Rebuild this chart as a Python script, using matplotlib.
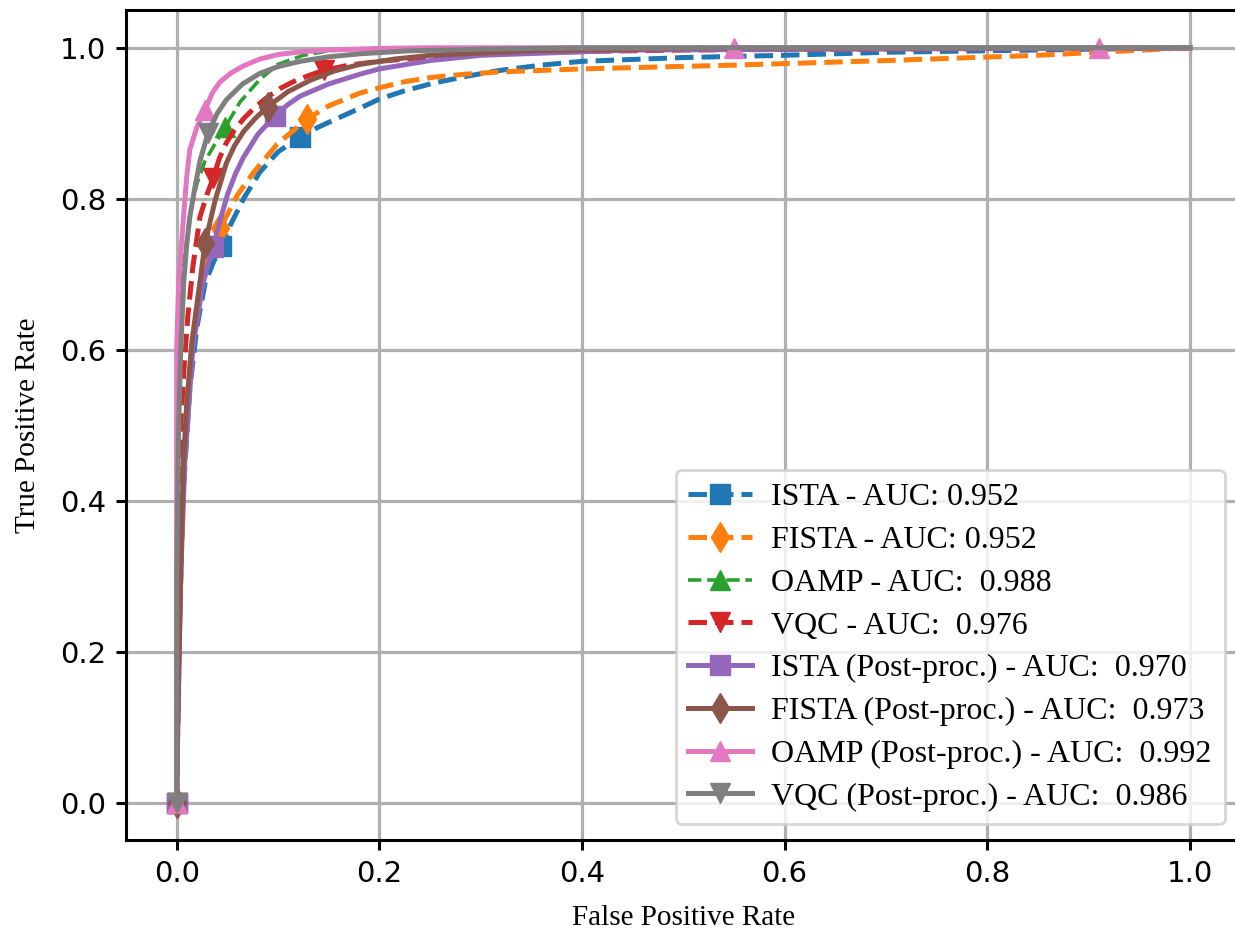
import matplotlib
matplotlib.use("Agg")
import matplotlib.pyplot as plt

# ---- data ----
labels = [
    "ISTA - AUC: 0.952",
    "FISTA - AUC: 0.952",
    "OAMP - AUC:  0.988",
    "VQC - AUC:  0.976",
    "ISTA (Post-proc.) - AUC:  0.970",
    "FISTA (Post-proc.) - AUC:  0.973",
    "OAMP (Post-proc.) - AUC:  0.992",
    "VQC (Post-proc.) - AUC:  0.986",
]

ista_fpr = [0, 0.002, 0.006, 0.013, 0.02, 0.028, 0.036, 0.044, 0.053, 0.066, 0.082, 0.1, 0.122, 0.14, 0.158, 0.181, 0.2, 0.225, 0.253, 0.285, 0.319, 0.36, 0.4, 0.5, 0.6, 0.7, 0.85, 1.0]
ista_tpr = [0, 0.2, 0.4, 0.55, 0.63, 0.688, 0.715, 0.738, 0.765, 0.8, 0.835, 0.862, 0.882, 0.895, 0.906, 0.92, 0.932, 0.943, 0.953, 0.962, 0.97, 0.977, 0.982, 0.987, 0.99, 0.994, 0.997, 1.0]
ista_mark = [0, 7, 12]

fista_fpr = [0, 0.002, 0.006, 0.012, 0.02, 0.03, 0.043, 0.06, 0.076, 0.099, 0.129, 0.15, 0.181, 0.2, 0.225, 0.253, 0.285, 0.319, 0.4, 0.55, 0.7, 0.85, 1.0]
fista_tpr = [0, 0.2, 0.4, 0.56, 0.66, 0.72, 0.761, 0.805, 0.835, 0.872, 0.906, 0.923, 0.94, 0.947, 0.955, 0.961, 0.965, 0.968, 0.972, 0.977, 0.983, 0.99, 1.0]
fista_mark = [0, 6, 10]

oamp_fpr = [0, 0, 0.002, 0.006, 0.013, 0.02, 0.028, 0.038, 0.048, 0.0625, 0.082, 0.1, 0.125, 0.15, 0.2, 1.0]
oamp_tpr = [0, 0.5, 0.6, 0.7, 0.78, 0.82, 0.85, 0.873, 0.895, 0.928, 0.958, 0.978, 0.99, 0.996, 1.0, 1.0]
oamp_mark = [0, 8]

vqc_fpr = [0, 0.001, 0.004, 0.007, 0.011, 0.016, 0.023, 0.03, 0.036, 0.042, 0.049, 0.057, 0.066, 0.078, 0.09, 0.102, 0.115, 0.13, 0.145, 0.17, 0.2, 0.25, 0.3, 0.4, 0.5, 1.0]
vqc_tpr = [0, 0.3, 0.5, 0.57, 0.644, 0.71, 0.776, 0.806, 0.827, 0.853, 0.874, 0.891, 0.906, 0.922, 0.935, 0.946, 0.955, 0.963, 0.970, 0.977, 0.982, 0.988, 0.992, 0.995, 0.997, 1.0]
vqc_mark = [0, 8, 18]

ista_pp_fpr = [0, 0.001, 0.004, 0.008, 0.016, 0.026, 0.036, 0.043, 0.05, 0.058, 0.066, 0.08, 0.097, 0.11, 0.122, 0.15, 0.181, 0.2, 0.25, 0.3, 0.45, 1.0]
ista_pp_tpr = [0, 0.1, 0.3, 0.45, 0.604, 0.688, 0.736, 0.772, 0.805, 0.833, 0.855, 0.885, 0.91, 0.925, 0.936, 0.952, 0.965, 0.972, 0.983, 0.99, 0.997, 1.0]
ista_pp_mark = [0, 6, 12]

fista_pp_fpr = [0, 0.001, 0.004, 0.0066, 0.01, 0.015, 0.023, 0.028, 0.038, 0.049, 0.057, 0.066, 0.078, 0.09, 0.11, 0.132, 0.155, 0.181, 0.215, 0.25, 0.35, 0.5, 1.0]
fista_pp_tpr = [0, 0.1, 0.3, 0.45, 0.53, 0.61, 0.69, 0.741, 0.798, 0.847, 0.87, 0.889, 0.907, 0.922, 0.942, 0.957, 0.969, 0.978, 0.985, 0.99, 0.996, 0.999, 1.0]
fista_pp_mark = [0, 7, 13]

oamp_pp_fpr = [0, 0, 0.002, 0.007, 0.01, 0.013, 0.02, 0.028, 0.035, 0.043, 0.054, 0.066, 0.082, 0.1, 0.125, 0.15, 0.2, 0.25, 0.55, 0.91, 1.0]
oamp_pp_tpr = [0, 0.6, 0.69, 0.78, 0.83, 0.865, 0.895, 0.917, 0.94, 0.955, 0.967, 0.976, 0.985, 0.991, 0.995, 0.997, 0.999, 1.0, 1.0, 1.0, 1.0]
oamp_pp_mark = [0, 7, 18, 19]

vqc_pp_fpr = [0, 0, 0.002, 0.004, 0.007, 0.01, 0.013, 0.018, 0.023, 0.031, 0.04, 0.049, 0.065, 0.082, 0.1, 0.122, 0.15, 0.181, 0.23, 0.3, 0.4, 1.0]
vqc_pp_tpr = [0, 0.3, 0.5, 0.6, 0.69, 0.74, 0.776, 0.815, 0.85, 0.887, 0.913, 0.931, 0.952, 0.966, 0.975, 0.982, 0.988, 0.992, 0.996, 0.998, 1.0, 1.0]
vqc_pp_mark = [0, 9]

x_ticks = [0.0, 0.2, 0.4, 0.6, 0.8, 1.0]
y_ticks = [0.0, 0.2, 0.4, 0.6, 0.8, 1.0]

# ---- styling ----
series = [
    (ista_fpr, ista_tpr, ista_mark, "C0", "--", "s", 3.6),
    (fista_fpr, fista_tpr, fista_mark, "C1", "--", "d", 3.6),
    (oamp_fpr, oamp_tpr, oamp_mark, "C2", "--", "^", 2.6),
    (vqc_fpr, vqc_tpr, vqc_mark, "C3", "--", "v", 3.6),
    (ista_pp_fpr, ista_pp_tpr, ista_pp_mark, "C4", "-", "s", 3.6),
    (fista_pp_fpr, fista_pp_tpr, fista_pp_mark, "C5", "-", "d", 3.6),
    (oamp_pp_fpr, oamp_pp_tpr, oamp_pp_mark, "C6", "-", "^", 3.6),
    (vqc_pp_fpr, vqc_pp_tpr, vqc_pp_mark, "C7", "-", "v", 3.6),
]

serif = ["Liberation Serif", "DejaVu Serif"]

fig = plt.figure(figsize=(12.35, 9.3), dpi=100)
ax = fig.add_axes([126 / 1235, (930 - 840.4) / 930, (1240.6 - 126) / 1235, (840.4 - 10) / 930])

for (fx, ty, mk, col, ls, m, lw), lab in zip(series, labels):
    ax.plot(fx, ty, color=col, linestyle=ls, marker=m, markevery=mk,
            markersize=15, linewidth=lw, label=lab)

ax.set_xlim(-0.05, 1.05)
ax.set_ylim(-0.05, 1.05)
ax.set_xticks(x_ticks)
ax.set_yticks(y_ticks)
ax.set_xticklabels([f"{v:.1f}" for v in x_ticks])
ax.set_yticklabels([f"{v:.1f}" for v in y_ticks])
ax.tick_params(labelsize=21, width=2.2, length=7, pad=7)
for s in ax.spines.values():
    s.set_linewidth(2.2)
ax.grid(True, color="#b0b0b0", linewidth=2.3)

ax.set_xlabel("False Positive Rate", fontsize=21, family=serif, labelpad=12)
ax.set_ylabel("True Positive Rate", fontsize=21, family=serif, labelpad=14)

leg = ax.legend(loc="lower right", prop={"family": serif, "size": 23},
                labelspacing=0.42, handletextpad=0.6, borderpad=0.4)
leg.get_frame().set_linewidth(2.0)

fig.savefig("out.png", dpi=100)
